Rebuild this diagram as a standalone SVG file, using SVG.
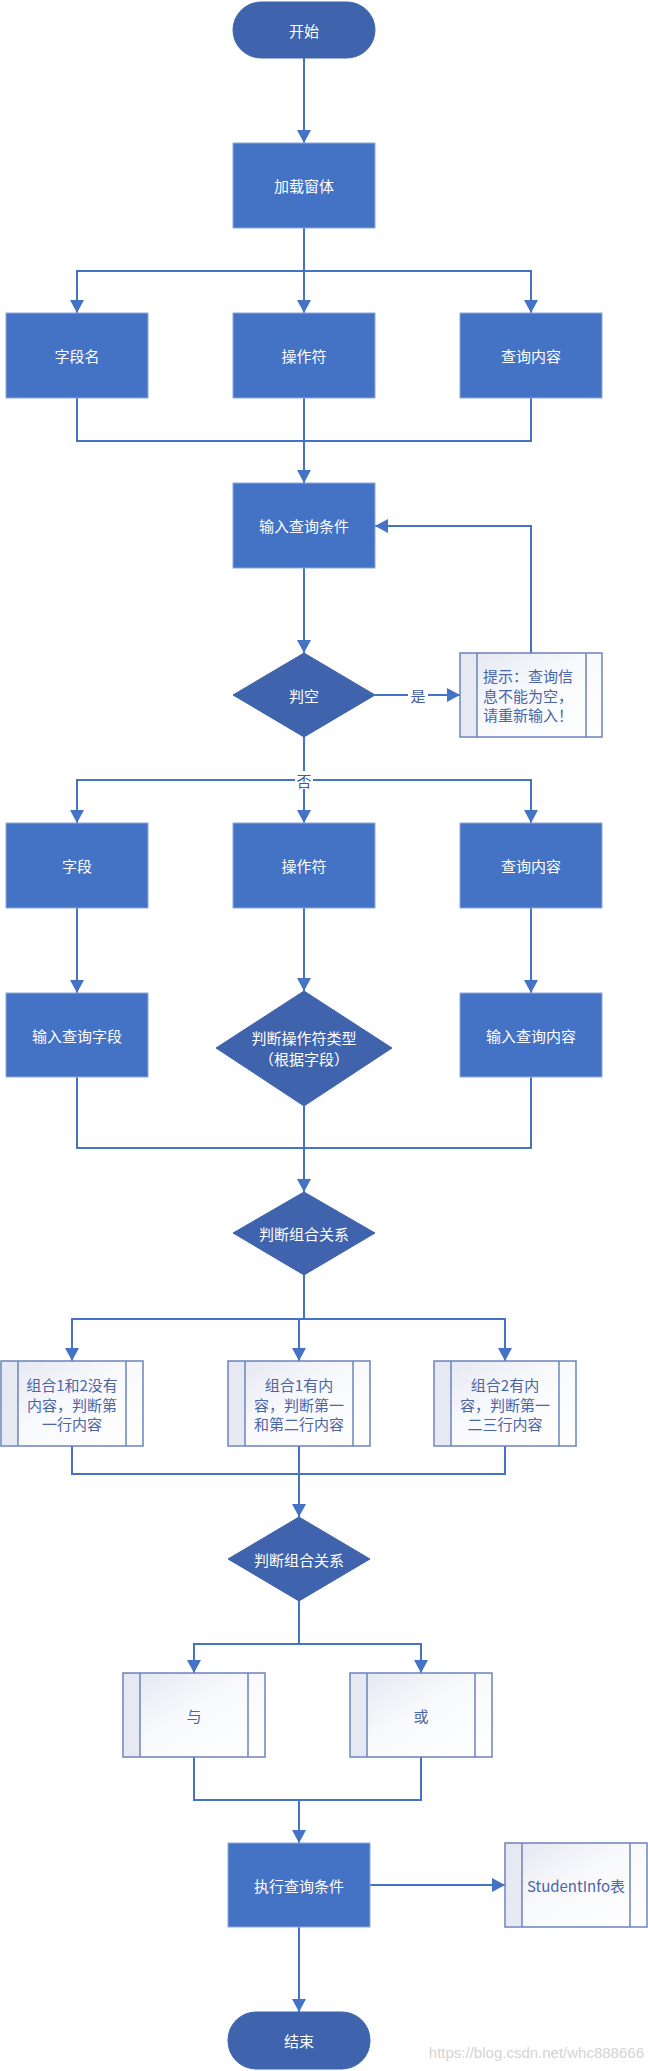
<svg xmlns="http://www.w3.org/2000/svg" width="648" height="2071" viewBox="0 0 648 2071">
<style>
.proc{fill:#4472C4;stroke:#8EA8DA;stroke-width:1}
.dec{fill:#3F64AD;stroke:#3F64AD;stroke-width:1}
.term{fill:#3F64AD;stroke:#3F64AD;stroke-width:1}
.sub{fill:url(#subg);stroke:#6B83BC;stroke-width:1.5}
.band{fill:#E6E9F2;stroke:none}
.inner{stroke:#6B83BC;stroke-width:1.5;fill:none}
.wt{font-family:"Noto Sans CJK SC","Noto Sans",sans-serif;font-size:15px;fill:#FFFFFF;text-anchor:middle;dominant-baseline:central}
.bt{font-family:"Noto Sans CJK SC","Noto Sans",sans-serif;font-size:15px;fill:#4A65A8;text-anchor:middle;dominant-baseline:central}
.lbl{font-family:"Noto Sans CJK SC","Noto Sans",sans-serif;font-size:15px;fill:#3F5E9F;text-anchor:middle;dominant-baseline:central}
.conn{fill:none;stroke:#4472C4;stroke-width:2}
.wm{font-family:"Liberation Sans",Arial,sans-serif;font-size:15px;fill:#D4D4D4;text-anchor:end}
</style>
<defs>
<linearGradient id="subg" x1="0" y1="0" x2="1" y2="1">
<stop offset="0" stop-color="#E2E6F0"/>
<stop offset="0.45" stop-color="#F8F9FC"/>
<stop offset="1" stop-color="#FFFFFF"/>
</linearGradient>
<marker id="arr" viewBox="0 0 13 14" refX="13" refY="7" markerWidth="13" markerHeight="14" markerUnits="userSpaceOnUse" orient="auto">
<path d="M0,0 L13,7 L0,14 z" fill="#4472C4"/>
</marker>
</defs>
<rect width="648" height="2071" fill="#FFFFFF"/>

<g id="connectors">
<path class="conn" d="M304,58 V143" marker-end="url(#arr)"/>
<path class="conn" d="M304,228 V313" marker-end="url(#arr)"/>
<path class="conn" d="M77,313 V271 H531 V313" marker-end="url(#arr)"/>
<path class="conn" d="M77,271 V313" marker-end="url(#arr)"/>
<path class="conn" d="M77,398 V441 H531 V398"/>
<path class="conn" d="M304,398 V483" marker-end="url(#arr)"/>
<path class="conn" d="M304,568 V653" marker-end="url(#arr)"/>
<path class="conn" d="M375,695 H460" marker-end="url(#arr)"/>
<path class="conn" d="M531,653 V526 H375" marker-end="url(#arr)"/>
<path class="conn" d="M304,737 V823" marker-end="url(#arr)"/>
<path class="conn" d="M77,823 V780 H531 V823" marker-end="url(#arr)"/>
<path class="conn" d="M77,780 V823" marker-end="url(#arr)"/>
<path class="conn" d="M77,908 V993" marker-end="url(#arr)"/>
<path class="conn" d="M304,908 V991" marker-end="url(#arr)"/>
<path class="conn" d="M531,908 V993" marker-end="url(#arr)"/>
<path class="conn" d="M77,1077 V1148 H531 V1077"/>
<path class="conn" d="M304,1106 V1192" marker-end="url(#arr)"/>
<path class="conn" d="M304,1275 V1319"/>
<path class="conn" d="M72,1361 V1319 H505 V1361" marker-end="url(#arr)"/>
<path class="conn" d="M72,1319 V1361" marker-end="url(#arr)"/>
<path class="conn" d="M299,1319 V1361" marker-end="url(#arr)"/>
<path class="conn" d="M72,1446 V1474 H505 V1446"/>
<path class="conn" d="M299,1446 V1517" marker-end="url(#arr)"/>
<path class="conn" d="M194,1673 V1644 H421 V1673" marker-end="url(#arr)"/>
<path class="conn" d="M299,1601 V1644"/>
<path class="conn" d="M194,1644 V1673" marker-end="url(#arr)"/>
<path class="conn" d="M194,1757 V1800 H421 V1757"/>
<path class="conn" d="M299,1800 V1843" marker-end="url(#arr)"/>
<path class="conn" d="M370,1885 H505" marker-end="url(#arr)"/>
<path class="conn" d="M299,1927 V2012" marker-end="url(#arr)"/>
<rect x="408" y="686" width="20" height="18" fill="#FFFFFF"/>
<text class="lbl" x="418" y="695">是</text>
<rect x="295" y="771" width="18" height="18" fill="#FFFFFF"/>
<text class="lbl" x="304" y="780">否</text>
</g>

<g id="start">
<rect class="term" x="233" y="2" width="142" height="56" rx="28" ry="28"/>
<text class="wt" x="304" y="30">开始</text>
</g>
<g id="load">
<rect class="proc" x="233" y="143" width="142" height="85"/>
<text class="wt" x="304" y="185">加载窗体</text>
</g>
<g id="fieldname">
<rect class="proc" x="6" y="313" width="142" height="85"/>
<text class="wt" x="77" y="355">字段名</text>
</g>
<g id="operator1">
<rect class="proc" x="233" y="313" width="142" height="85"/>
<text class="wt" x="304" y="355">操作符</text>
</g>
<g id="content1">
<rect class="proc" x="460" y="313" width="142" height="85"/>
<text class="wt" x="531" y="355">查询内容</text>
</g>
<g id="input">
<rect class="proc" x="233" y="483" width="142" height="85"/>
<text class="wt" x="304" y="525">输入查询条件</text>
</g>
<g id="isempty">
<polygon class="dec" points="304,653 375,695 304,737 233,695"/>
<text class="wt" x="304" y="695">判空</text>
</g>
<g id="tip">
<rect class="sub" x="460" y="653" width="142" height="84"/>
<rect class="band" x="461" y="654" width="16" height="82"/>
<line class="inner" x1="477" y1="653" x2="477" y2="737"/>
<line class="inner" x1="586" y1="653" x2="586" y2="737"/>
<text class="bt" x="483" y="675" style="text-anchor:start">提示：查询信</text>
<text class="bt" x="483" y="695" style="text-anchor:start">息不能为空，</text>
<text class="bt" x="483" y="714" style="text-anchor:start">请重新输入！</text>
</g>
<g id="field">
<rect class="proc" x="6" y="823" width="142" height="85"/>
<text class="wt" x="77" y="865">字段</text>
</g>
<g id="operator2">
<rect class="proc" x="233" y="823" width="142" height="85"/>
<text class="wt" x="304" y="865">操作符</text>
</g>
<g id="content2">
<rect class="proc" x="460" y="823" width="142" height="85"/>
<text class="wt" x="531" y="865">查询内容</text>
</g>
<g id="inputfield">
<rect class="proc" x="6" y="993" width="142" height="84"/>
<text class="wt" x="77" y="1035">输入查询字段</text>
</g>
<g id="optype">
<polygon class="dec" points="304,991 392,1048 304,1106 216,1048"/>
<text class="wt" x="304" y="1037">判断操作符类型</text>
<text class="wt" x="304" y="1058">（根据字段）</text>
</g>
<g id="inputcontent">
<rect class="proc" x="460" y="993" width="142" height="84"/>
<text class="wt" x="531" y="1035">输入查询内容</text>
</g>
<g id="combo1">
<polygon class="dec" points="304,1192 375,1233 304,1275 233,1233"/>
<text class="wt" x="304" y="1233">判断组合关系</text>
</g>
<g id="case1">
<rect class="sub" x="1" y="1361" width="142" height="85"/>
<rect class="band" x="2" y="1362" width="16" height="83"/>
<line class="inner" x1="18" y1="1361" x2="18" y2="1446"/>
<line class="inner" x1="126" y1="1361" x2="126" y2="1446"/>
<text class="bt" x="72" y="1384">组合1和2没有</text>
<text class="bt" x="72" y="1404">内容，判断第</text>
<text class="bt" x="72" y="1423">一行内容</text>
</g>
<g id="case2">
<rect class="sub" x="228" y="1361" width="142" height="85"/>
<rect class="band" x="229" y="1362" width="16" height="83"/>
<line class="inner" x1="245" y1="1361" x2="245" y2="1446"/>
<line class="inner" x1="353" y1="1361" x2="353" y2="1446"/>
<text class="bt" x="299" y="1384">组合1有内</text>
<text class="bt" x="299" y="1404">容，判断第一</text>
<text class="bt" x="299" y="1423">和第二行内容</text>
</g>
<g id="case3">
<rect class="sub" x="434" y="1361" width="142" height="85"/>
<rect class="band" x="435" y="1362" width="16" height="83"/>
<line class="inner" x1="451" y1="1361" x2="451" y2="1446"/>
<line class="inner" x1="559" y1="1361" x2="559" y2="1446"/>
<text class="bt" x="505" y="1384">组合2有内</text>
<text class="bt" x="505" y="1404">容，判断第一</text>
<text class="bt" x="505" y="1423">二三行内容</text>
</g>
<g id="combo2">
<polygon class="dec" points="299,1517 370,1559 299,1601 228,1559"/>
<text class="wt" x="299" y="1559">判断组合关系</text>
</g>
<g id="and">
<rect class="sub" x="123" y="1673" width="142" height="84"/>
<rect class="band" x="124" y="1674" width="16" height="82"/>
<line class="inner" x1="140" y1="1673" x2="140" y2="1757"/>
<line class="inner" x1="248" y1="1673" x2="248" y2="1757"/>
<text class="bt" x="194" y="1715">与</text>
</g>
<g id="or">
<rect class="sub" x="350" y="1673" width="142" height="84"/>
<rect class="band" x="351" y="1674" width="16" height="82"/>
<line class="inner" x1="367" y1="1673" x2="367" y2="1757"/>
<line class="inner" x1="475" y1="1673" x2="475" y2="1757"/>
<text class="bt" x="421" y="1715">或</text>
</g>
<g id="execute">
<rect class="proc" x="228" y="1843" width="142" height="84"/>
<text class="wt" x="299" y="1885">执行查询条件</text>
</g>
<g id="table">
<rect class="sub" x="505" y="1843" width="142" height="84"/>
<rect class="band" x="506" y="1844" width="16" height="82"/>
<line class="inner" x1="522" y1="1843" x2="522" y2="1927"/>
<line class="inner" x1="630" y1="1843" x2="630" y2="1927"/>
<text class="bt" x="576" y="1885">StudentInfo表</text>
</g>
<g id="end">
<rect class="term" x="228" y="2012" width="142" height="57" rx="28" ry="28"/>
<text class="wt" x="299" y="2040">结束</text>
</g>
<text class="wm" x="644" y="2058">https://blog.csdn.net/whc888666</text>
</svg>
